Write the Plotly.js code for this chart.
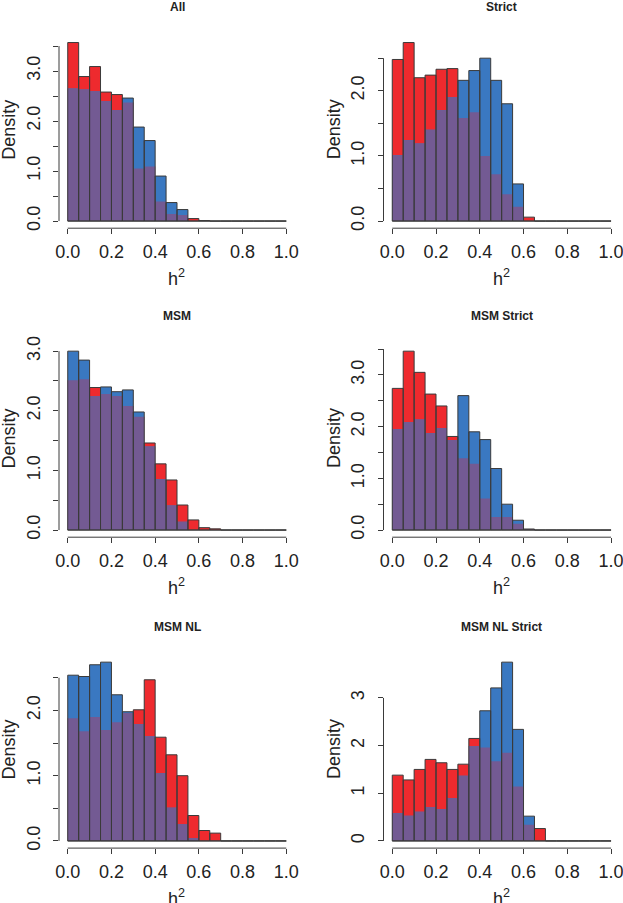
<!DOCTYPE html>
<html>
<head>
<meta charset="utf-8">
<script src="https://cdn.plot.ly/plotly-3.0.1.min.js"></script>
<style>html,body{margin:0;padding:0;background:#fff;}#chart{width:623px;height:903px;}</style>
</head>
<body>
<div id="chart"></div>
<script>
// Bin left edges (histogram bins of width 0.05 on [0,1])
const binStarts = [0.00,0.05,0.10,0.15,0.20,0.25,0.30,0.35,0.40,0.45,0.50,0.55,0.60,0.65,0.70,0.75,0.80,0.85,0.90,0.95];

const panelTitles = ["All","Strict","MSM","MSM Strict","MSM NL","MSM NL Strict"];

const allRed   = [3.57,2.89,3.09,2.58,2.53,2.37,1.05,1.09,0.39,0.14,0.12,0.05,0.01,0,0,0,0,0,0,0];
const allBlue  = [2.65,2.63,2.60,2.40,2.22,2.46,1.88,1.61,0.90,0.37,0.23,0,0,0,0,0,0,0,0,0];

const strictRed  = [2.48,2.74,2.20,2.24,2.33,2.34,1.58,1.67,1.00,0.72,0.41,0.22,0.06,0,0,0,0,0,0,0];
const strictBlue = [1.01,1.24,1.19,1.40,1.70,1.90,2.16,2.31,2.50,2.16,1.80,0.57,0,0,0,0,0,0,0,0];

const msmRed  = [2.51,2.53,2.39,2.28,2.25,2.08,1.90,1.46,1.11,0.84,0.42,0.17,0.04,0.02,0,0,0,0,0,0];
const msmBlue = [3.00,2.85,2.25,2.40,2.32,2.35,1.98,1.40,0.85,0.41,0.14,0,0,0,0,0,0,0,0,0];

const msmStrictRed  = [2.74,3.46,3.05,2.63,2.40,1.81,1.39,1.28,0.61,0.25,0.25,0.12,0.02,0,0,0,0,0,0,0];
const msmStrictBlue = [1.95,2.09,2.14,1.87,1.97,1.74,2.60,1.90,1.75,1.19,0.50,0.19,0.01,0,0,0,0,0,0,0];

const msmNlRed  = [1.88,1.68,1.90,1.70,1.82,1.96,2.01,2.47,1.59,1.32,1.00,0.39,0.16,0.12,0,0,0,0,0,0];
const msmNlBlue = [2.54,2.52,2.70,2.74,2.24,1.98,1.79,1.61,1.04,0.51,0.26,0.04,0,0,0,0,0,0,0,0];

const msmNlStrictRed  = [1.38,1.28,1.50,1.71,1.64,1.50,1.61,2.15,1.96,1.67,1.85,1.14,0.34,0.26,0,0,0,0,0,0];
const msmNlStrictBlue = [0.58,0.53,0.61,0.71,0.67,0.90,1.37,1.99,2.73,3.21,3.75,2.34,0.52,0,0,0,0,0,0,0];

// labelled y ticks and unlabelled (minor) y ticks per panel
const yMajorTicks = [
  [0,1,2,3],
  [0,1,2],
  [0,1,2,3],
  [0,1,2,3],
  [0,1,2],
  [0,1,2,3]
];
const yMajorText = [
  ["0.0","1.0","2.0","3.0"],
  ["0.0","1.0","2.0"],
  ["0.0","1.0","2.0","3.0"],
  ["0.0","1.0","2.0","3.0"],
  ["0.0","1.0","2.0"],
  ["0","1","2","3"]
];
const yMinorTicks = [
  [0.5,1.5,2.5,3.5],
  [0.5,1.5,2.5],
  [0.5,1.5,2.5],
  [0.5,1.5,2.5,3.5],
  [0.5,1.5,2.5],
  []
];
const xTicks = [0,0.2,0.4,0.6,0.8,1.0];
const xTickText = ["0.0","0.2","0.4","0.6","0.8","1.0"];

const reds  = [allRed,strictRed,msmRed,msmStrictRed,msmNlRed,msmNlStrictRed];
const blues = [allBlue,strictBlue,msmBlue,msmStrictBlue,msmNlBlue,msmNlStrictBlue];

const RED = "#EE2A2E", BLUE = "#3A78C1", PURPLE = "#735A93", EDGE = "#3a3a3a", TXT = "#222222";
const FONT = "Liberation Sans, Arial, Helvetica, sans-serif";
const W = 623, H = 903;

// plot regions in pixels
const colX = [[59,295],[383.5,619.8]];
const rowY = [[35.4,228.2],[344,537.2],[655,848.1]];

const px2x = p => p / W;
const py2y = p => (H - p) / H;

const traces = [];
const layout = {
  width: W, height: H,
  margin: {l:0,r:0,t:0,b:0},
  paper_bgcolor: "#fff", plot_bgcolor: "#fff",
  showlegend: false,
  barmode: "overlay",
  font: {family: FONT, color: TXT},
  shapes: [], annotations: []
};

for (let i = 0; i < 6; i++) {
  const col = i % 2, row = Math.floor(i / 2);
  const xa = i === 0 ? "x" : "x" + (i + 1);
  const ya = i === 0 ? "y" : "y" + (i + 1);
  const xKey = i === 0 ? "xaxis" : "xaxis" + (i + 1);
  const yKey = i === 0 ? "yaxis" : "yaxis" + (i + 1);
  const red = reds[i], blue = blues[i];
  const lo = red.map((v, k) => Math.min(v, blue[k]));
  const hi = red.map((v, k) => Math.max(v, blue[k]));
  const M = Math.max(...hi);
  const common = {type: "bar", x: binStarts, width: 0.05, offset: 0, xaxis: xa, yaxis: ya, hoverinfo: "skip"};
  traces.push(Object.assign({}, common, {y: red,  marker: {color: RED,  line: {width: 0}}}));
  traces.push(Object.assign({}, common, {y: blue, marker: {color: BLUE, line: {width: 0}}}));
  traces.push(Object.assign({}, common, {y: lo,   marker: {color: PURPLE, line: {width: 0}}}));
  traces.push(Object.assign({}, common, {y: hi,   marker: {color: "rgba(0,0,0,0)", line: {width: 1, color: EDGE}}}));

  const [x0p, x1p] = colX[col];
  const [y0p, y1p] = rowY[row];
  layout[xKey] = {
    domain: [px2x(x0p), px2x(x1p)], anchor: ya,
    range: [-0.04, 1.04], showgrid: false, zeroline: false, showline: false,
    tickmode: "array", tickvals: xTicks, ticktext: xTickText,
    ticks: "outside", ticklen: 5, tickwidth: 1, tickcolor: EDGE,
    tickfont: {family: FONT, size: 18, color: TXT}, ticklabelstandoff: 2,
    ticklabeloverflow: "allow", fixedrange: true
  };
  layout[yKey] = {
    domain: [py2y(y1p), py2y(y0p)], anchor: xa,
    range: [-0.04 * M, 1.04 * M], showgrid: false, zeroline: false, showline: false,
    tickmode: "array", tickvals: yMajorTicks[i], ticktext: yMajorText[i],
    ticks: "outside", ticklen: 5, tickwidth: 1, tickcolor: EDGE, tickangle: -90,
    minor: {tickmode: "array", tickvals: yMinorTicks[i], ticks: "outside", ticklen: 5, tickwidth: 1, tickcolor: EDGE, showgrid: false},
    tickfont: {family: FONT, size: 18, color: TXT}, ticklabelstandoff: 6,
    ticklabeloverflow: "allow", fixedrange: true
  };
  const yTop = Math.max(...yMajorTicks[i], ...yMinorTicks[i]);
  // R-style axis lines spanning first to last tick
  layout.shapes.push({type: "line", xref: xa + " domain", yref: ya, x0: 0, x1: 0, y0: 0, y1: yTop, line: {color: EDGE, width: 1}});
  layout.shapes.push({type: "line", xref: xa, yref: ya + " domain", x0: xTicks[0], x1: xTicks[xTicks.length - 1], y0: 0, y1: 0, line: {color: EDGE, width: 1}});
  // baseline of zero-height bins
  layout.shapes.push({type: "line", xref: xa, yref: ya, x0: binStarts[0], x1: 1.0, y0: 0, y1: 0, line: {color: EDGE, width: 1}});

  const cx = (x0p + x1p) / 2;
  layout.annotations.push({text: "<b>" + panelTitles[i] + "</b>", xref: "paper", yref: "paper",
    x: px2x(cx), y: py2y(y0p - 28), xanchor: "center", yanchor: "middle", showarrow: false,
    font: {family: FONT, size: 12, color: TXT}});
  layout.annotations.push({text: "Density", xref: "paper", yref: "paper", textangle: -90,
    x: px2x(x0p - 50), y: py2y((y0p + y1p) / 2 - 2), xanchor: "center", yanchor: "middle", showarrow: false,
    font: {family: FONT, size: 18, color: TXT}});
  layout.annotations.push({text: "h<sup>2</sup>", xref: "paper", yref: "paper",
    x: px2x(x0p + 8.7 + 218.5 / 2), y: py2y(y1p + 49), xanchor: "center", yanchor: "middle", showarrow: false,
    font: {family: FONT, size: 18, color: TXT}});
}

Plotly.newPlot("chart", traces, layout, {staticPlot: true, displayModeBar: false});
</script>
</body>
</html>
